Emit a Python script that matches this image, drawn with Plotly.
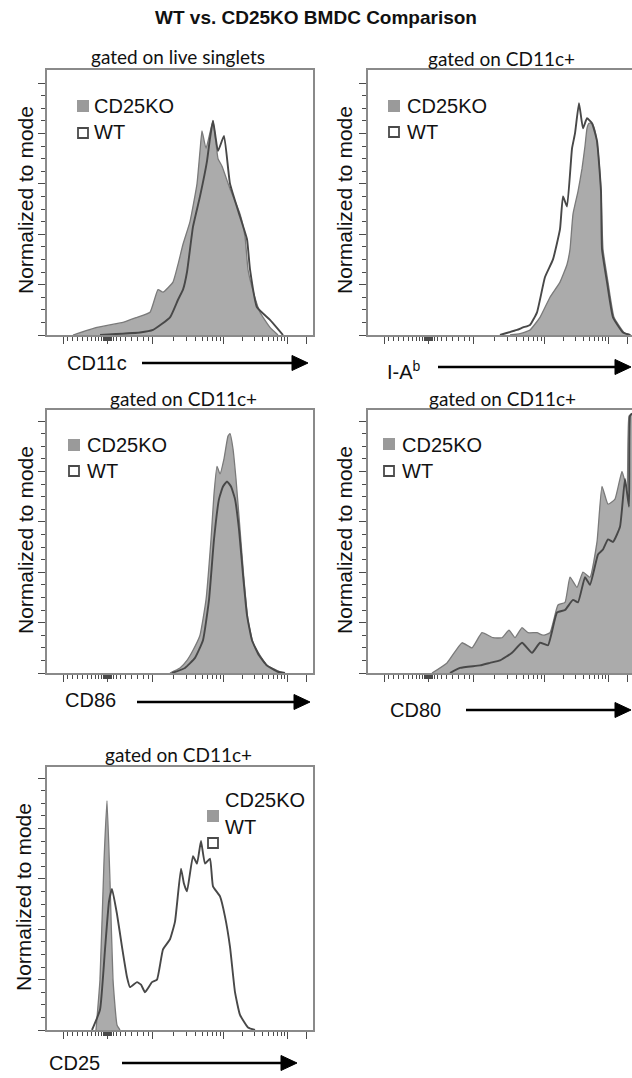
import plotly.graph_objects as go

# ---------------- data (x: display channel offset, y: % of mode) ----------------
cd11c_ko_x = [26, 50, 76, 90, 103, 111, 116, 126, 131, 136, 143, 150, 153, 155, 159, 166, 171, 175, 183, 193, 198, 201, 205, 213, 223, 231]
cd11c_ko_y = [0, 3, 5, 7, 9, 18, 17, 21, 28, 36, 45, 60, 73, 81, 74, 85, 70, 67, 58, 48, 39, 26, 19, 9, 3, 0]
cd11c_wt_x = [53, 93, 106, 123, 131, 136, 140, 146, 153, 160, 163, 166, 171, 177, 183, 193, 200, 203, 210, 223, 236]
cd11c_wt_y = [0, 1, 2, 7, 14, 18, 25, 43, 55, 69, 78, 85, 73, 79, 60, 47, 38, 26, 11, 6, 0]

iab_ko_x = [142, 152, 162, 172, 182, 192, 199, 202, 205, 210, 214, 217, 219, 221, 224, 227, 230, 233, 235, 240, 246, 256, 263]
iab_ko_y = [0, 0.5, 2, 7, 15, 21, 28, 34, 48, 57, 66, 75, 82, 84, 84, 81, 73, 57, 34, 21, 7, 1, 0]
iab_wt_x = [132, 149, 155, 162, 169, 177, 185, 192, 195, 199, 204, 207, 211, 215, 219, 224, 229, 233, 234, 239, 245, 255, 262]
iab_wt_y = [0, 2, 3, 4, 9, 23, 30, 42, 55, 51, 74, 80, 92, 82, 86, 84, 77, 57, 34, 21, 7, 1, 0]

cd86_ko_x = [123, 133, 140, 146, 153, 159, 164, 167, 170, 173, 177, 181, 183, 186, 189, 193, 197, 201, 206, 213, 220, 230, 236]
cd86_ko_y = [0, 2, 5, 9, 15, 29, 53, 71, 82, 79, 85, 94, 95, 89, 77, 57, 37, 21, 12, 7, 3, 1, 0]
cd86_wt_x = [125, 138, 148, 156, 162, 167, 172, 176, 180, 184, 188, 192, 196, 200, 205, 212, 220, 231, 238]
cd86_wt_y = [0, 2, 6, 13, 29, 53, 69, 74, 76, 74, 69, 57, 39, 23, 13, 7, 3, 0.5, 0]

cd80_ko_x = [64, 79, 94, 104, 114, 125, 134, 141, 147, 154, 160, 169, 175, 182, 190, 197, 202, 209, 215, 222, 229, 234, 240, 247, 254, 259, 261, 264]
cd80_ko_y = [0, 4, 12, 10, 16, 14, 14, 17, 14, 18, 16, 16, 15, 16, 27, 28, 38, 34, 40, 38, 52, 74, 67, 69, 80, 73, 102, 103]
cd80_wt_x = [82, 92, 112, 122, 132, 144, 154, 164, 172, 180, 189, 197, 205, 210, 217, 222, 230, 235, 240, 245, 252, 257, 261, 262, 264]
cd80_wt_y = [0, 2, 3, 4, 5, 8, 12, 8, 12, 11, 24, 25, 29, 28, 38, 35, 47, 49, 53, 52, 58, 77, 66, 102, 103]

cd25_ko_x = [49, 53, 57, 60, 63, 66, 70, 73]
cd25_ko_y = [0, 20, 67, 91, 59, 20, 2, 0]
cd25_wt_x = [45, 53, 58, 62, 65, 70, 75, 80, 83, 90, 94, 98, 105, 110, 116, 123, 128, 134, 137, 140, 146, 150, 154, 158, 163, 166, 173, 178, 183, 188, 193, 201, 208]
cd25_wt_y = [0, 8, 32, 51, 56, 46, 33, 21, 17, 19, 18, 15, 19, 20, 32, 36, 43, 64, 58, 55, 69, 66, 75, 66, 68, 57, 53, 45, 33, 15, 6, 1, 0]

marker_labels = ["CD11c", "I-A<sup>b</sup>", "CD86", "CD80", "CD25"]
gate_labels = ["gated on live singlets", "gated on CD11c+", "gated on CD11c+", "gated on CD11c+", "gated on CD11c+"]
series_names = ["CD25KO", "WT"]
y_major = [0, 20, 40, 60, 80, 100]
y_minor = [5, 10, 15, 25, 30, 35, 45, 50, 55, 65, 70, 75, 85, 90, 95]
x_major = [16, 60, 105, 176, 240, 259]
x_minor = [20, 25, 30, 35, 40, 44, 48, 51, 54, 56, 57, 58, 58.8, 59.4, 60.6, 61.2, 62, 63, 64.5, 66.5, 69, 73,
           78, 84, 90, 96, 101, 126, 139, 148, 155, 160, 165, 169, 173,
           195, 207, 215, 221, 226, 230, 234, 237]

# ---------------- layout helpers ----------------
W, H = 632, 1078
def PX(x):
    return x / W
def PY(y):
    return 1 - y / H

FONT = "Liberation Sans, Arial, sans-serif"
GATEFONT = "Lato, Open Sans, sans-serif"
KO_FILL = "#ababab"
KO_LINE = "#7a7a7a"
WT_LINE = "#484848"
AX_COL = "#8a8a8a"
TICK_COL = "#4a4a4a"

panels = [
    dict(box=(47, 313, 70, 335), xr=266, ko=(cd11c_ko_x, cd11c_ko_y), wt=(cd11c_wt_x, cd11c_wt_y),
         gate=(178, 57), ytit=(25, 200), leg=(77, 100, 127), legtxt=(92, 106, 132),
         lab=(65, 363), arrow=(142, 308, 363), right=False),
    dict(box=(368, 632, 70, 335), xr=264, ko=(iab_ko_x, iab_ko_y), wt=(iab_wt_x, iab_wt_y),
         gate=(501, 58), ytit=(344, 200), leg=(388, 100, 126), legtxt=(405, 106, 132),
         lab=(385, 371), arrow=(438, 631, 367), right=True),
    dict(box=(47, 313, 410, 673), xr=266, ko=(cd86_ko_x, cd86_ko_y), wt=(cd86_wt_x, cd86_wt_y),
         gate=(183, 399), ytit=(25, 540), leg=(68, 439, 465), legtxt=(85, 445, 471),
         lab=(63, 700), arrow=(137, 310, 702), right=False),
    dict(box=(368, 632, 410, 673), xr=264, ko=(cd80_ko_x, cd80_ko_y), wt=(cd80_wt_x, cd80_wt_y),
         gate=(502, 398), ytit=(344, 540), leg=(383, 438, 465), legtxt=(400, 445, 471),
         lab=(388, 710), arrow=(466, 631, 710), right=True),
    dict(box=(47, 313, 767, 1030), xr=266, ko=(cd25_ko_x, cd25_ko_y), wt=(cd25_wt_x, cd25_wt_y),
         gate=(178, 754), ytit=(23, 897), leg=(207, 810, 837), legtxt=(223, 800, 827),
         lab=(47, 1063), arrow=(122, 297, 1063), right=False),
]

fig = go.Figure()
shapes = []
annotations = []
layout_axes = {}

for i, p in enumerate(panels):
    n = i + 1
    xs = "" if n == 1 else str(n)
    x0, x1, yt, yb = p["box"]
    yr = (yb - yt) / 2.52
    fig.add_trace(go.Scatter(x=p["ko"][0], y=p["ko"][1], mode="lines", fill="tozeroy",
                             fillcolor=KO_FILL, line=dict(color=KO_LINE, width=1.3, shape="spline", smoothing=0.4),
                             xaxis="x" + xs, yaxis="y" + xs, showlegend=False, name=series_names[0]))
    fig.add_trace(go.Scatter(x=p["wt"][0], y=p["wt"][1], mode="lines",
                             line=dict(color=WT_LINE, width=1.9, shape="spline", smoothing=0.4),
                             xaxis="x" + xs, yaxis="y" + xs, showlegend=False, name=series_names[1]))
    layout_axes["xaxis" + xs] = dict(
        domain=[PX(x0), PX(x1)], range=[0, p["xr"]], anchor="y" + xs,
        showgrid=False, zeroline=False, showticklabels=False,
        showline=True, linecolor=AX_COL, linewidth=1.6, mirror=True,
        ticks="outside", tickmode="array", tickvals=x_major, ticklen=7, tickwidth=1.4, tickcolor=TICK_COL,
        minor=dict(tickmode="array", tickvals=x_minor, ticks="outside", ticklen=4, tickwidth=1.1, tickcolor=TICK_COL),
    )
    layout_axes["yaxis" + xs] = dict(
        domain=[PY(yb), PY(yt)], range=[0, yr], anchor="x" + xs,
        showgrid=False, zeroline=False, showticklabels=False,
        showline=True, linecolor=AX_COL, linewidth=1.6, mirror=(not p["right"]),
        ticks="outside", tickmode="array", tickvals=y_major, ticklen=7, tickwidth=1.4, tickcolor=TICK_COL,
        minor=dict(tickmode="array", tickvals=y_minor, ticks="outside", ticklen=4, tickwidth=1, tickcolor=TICK_COL),
    )
    annotations.append(dict(x=PX(p["gate"][0]), y=PY(p["gate"][1]), xref="paper", yref="paper",
                            text=gate_labels[i], showarrow=False, xanchor="center", yanchor="middle",
                            font=dict(family=GATEFONT, size=19, color="#111")))
    annotations.append(dict(x=PX(p["ytit"][0]), y=PY(p["ytit"][1]), xref="paper", yref="paper",
                            text="Normalized to mode", showarrow=False, textangle=-90,
                            xanchor="center", yanchor="middle",
                            font=dict(family=FONT, size=21, color="#111")))
    lx, ly1, ly2 = p["leg"]
    shapes.append(dict(type="rect", xref="paper", yref="paper",
                       x0=PX(lx), x1=PX(lx + 12), y0=PY(ly1 + 12), y1=PY(ly1),
                       fillcolor="#9a9a9a", line=dict(width=0)))
    shapes.append(dict(type="rect", xref="paper", yref="paper",
                       x0=PX(lx + 1), x1=PX(lx + 11), y0=PY(ly2 + 11), y1=PY(ly2 + 1),
                       fillcolor="white", line=dict(color="#4a4a4a", width=1.8)))
    tx, ty1, ty2 = p["legtxt"]
    for name, ty in zip(series_names, (ty1, ty2)):
        annotations.append(dict(x=PX(tx), y=PY(ty), xref="paper", yref="paper", text=name,
                                showarrow=False, xanchor="left", yanchor="middle",
                                font=dict(family=FONT, size=20, color="#111")))
    annotations.append(dict(x=PX(p["lab"][0]), y=PY(p["lab"][1]), xref="paper", yref="paper",
                            text=marker_labels[i], showarrow=False, xanchor="left", yanchor="middle",
                            font=dict(family=FONT, size=20, color="#111")))
    ax0, ax1, ay = p["arrow"]
    shapes.append(dict(type="line", xref="paper", yref="paper",
                       x0=PX(ax0), x1=PX(ax1 - 12), y0=PY(ay), y1=PY(ay),
                       line=dict(color="black", width=2.6)))
    shapes.append(dict(type="path", xref="paper", yref="paper",
                       path="M %f,%f L %f,%f L %f,%f Z" % (PX(ax1 - 16), PY(ay - 7.5), PX(ax1), PY(ay),
                                                           PX(ax1 - 16), PY(ay + 7.5)),
                       fillcolor="black", line=dict(color="black", width=1)))

annotations.append(dict(x=PX(316), y=PY(18), xref="paper", yref="paper",
                        text="<b>WT vs. CD25KO BMDC Comparison</b>", showarrow=False,
                        xanchor="center", yanchor="middle",
                        font=dict(family=FONT, size=19, color="#111")))

fig.update_layout(width=W, height=H, margin=dict(l=0, r=0, t=0, b=0),
                  paper_bgcolor="white", plot_bgcolor="white",
                  shapes=shapes, annotations=annotations, **layout_axes)

fig.write_html("out.html")
